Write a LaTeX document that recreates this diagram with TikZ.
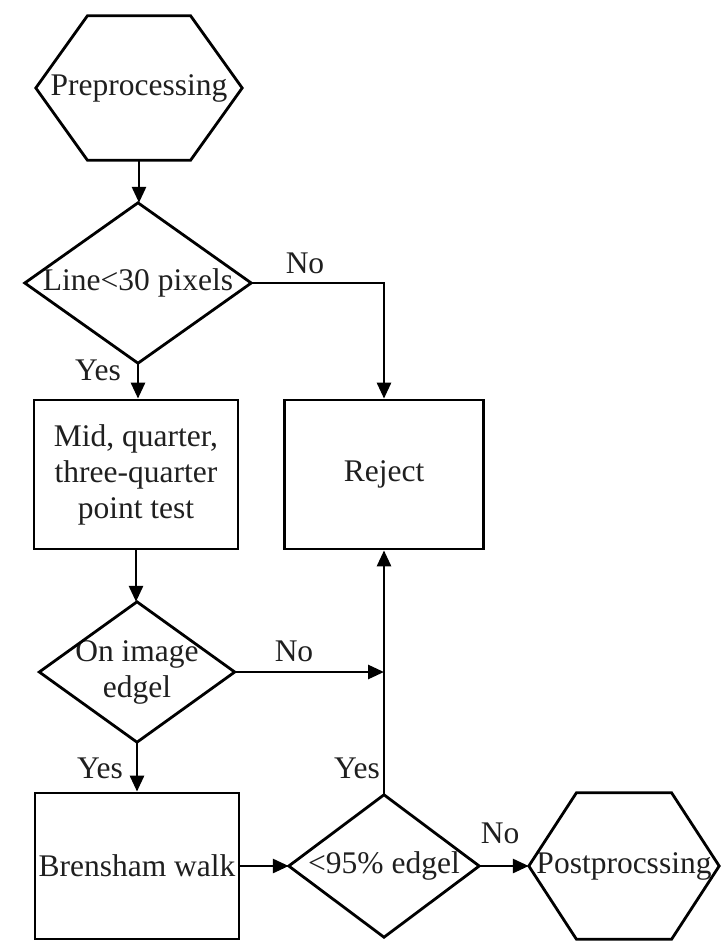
\documentclass[tikz,border=0pt]{standalone}
\usepackage{fontspec}
\setmainfont{Liberation Serif}
\usetikzlibrary{arrows.meta,calc}
\begin{document}
\begin{tikzpicture}[x=1pt,y=-1pt,
  every node/.style={font=\fontsize{31.5}{36}\selectfont, text=black!88},
  box/.style={draw, line width=2.8pt, rectangle, inner sep=0pt, align=center},
  frame/.style={rectangle, inner sep=0pt, align=center},
  edge/.style={line width=2.8pt},
  arr/.style={edge, -{Triangle[length=16pt,width=14pt]}},
  tag/.style={inner sep=0pt}]
\useasboundingbox (0,0) rectangle (720,942);

% process steps and decisions
\node[frame, minimum width=206pt, minimum height=144pt] (pre) at (139,88) {Preprocessing};
\node[frame, minimum width=226pt, minimum height=160pt] (len) at (138,283) {Line<30 pixels};
\node[box, minimum width=204pt, minimum height=149pt] (mid) at (136,474.5) {Mid, quarter,\\three-quarter\\point test};
\node[box, minimum width=199pt, minimum height=149pt] (rej) at (384,474.5) {Reject};
\node[frame, minimum width=195pt, minimum height=140pt] (onedge) at (137,672) {On image\\edgel};
\node[box, minimum width=204pt, minimum height=146pt] (walk) at (137,866) {Brensham walk};
\node[frame, minimum width=190pt, minimum height=142pt] (ratio) at (384,866) {<95\% edgel};
\node[frame, minimum width=190pt, minimum height=146pt] (post) at (624,866) {Postprocssing};

% hexagon outlines for start and end
\foreach \n in {pre,post}
  \draw[edge, line join=miter] (\n.west)
    -- ($(\n.north west)!0.25!(\n.north east)$)
    -- ($(\n.north west)!0.75!(\n.north east)$)
    -- (\n.east)
    -- ($(\n.south west)!0.75!(\n.south east)$)
    -- ($(\n.south west)!0.25!(\n.south east)$)
    -- cycle;

% diamond outlines for decisions
\foreach \n in {len,onedge,ratio}
  \draw[edge, line join=miter] (\n.north) -- (\n.east) -- (\n.south) -- (\n.west) -- cycle;

% branch labels
\node[tag] (no1) at (305,263) {No};
\node[tag] (yes1) at (98,370) {Yes};
\node[tag] (no2) at (294,651) {No};
\node[tag] (yes2) at (100,768) {Yes};
\node[tag] (yes3) at (357,768) {Yes};
\node[tag] (no3) at (500,833) {No};

% connectors
\draw[arr] (pre.south) -- (pre.south |- len.north);
\draw[arr] (len.east) -| (rej.north);
\draw[arr] (len.south) -- (len.south |- mid.north);
\draw[arr] (mid.south) -- (mid.south |- onedge.north);
\coordinate (join) at (rej.south |- onedge.east);
\draw[arr] (onedge.east) -- (join);
\draw[arr] (onedge.south) -- (onedge.south |- walk.north);
\draw[arr] (walk.east) -- (ratio.west);
\draw[arr] (ratio.north) -- (ratio.north |- rej.south);
\draw[arr] (ratio.east) -- (post.west);
\end{tikzpicture}
\end{document}
